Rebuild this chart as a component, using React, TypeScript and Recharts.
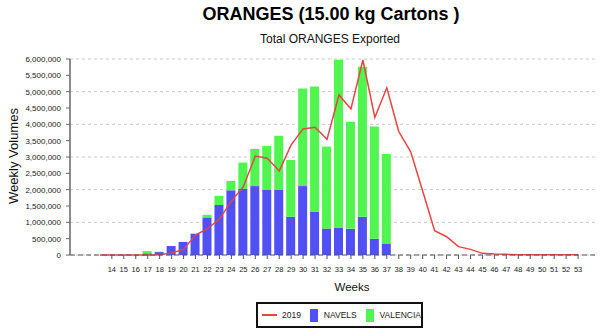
import React from 'react';
import {
  ComposedChart,
  Bar,
  Line,
  XAxis,
  YAxis,
  CartesianGrid,
  Legend,
} from 'recharts';

// weeks 11..54 (only 14..53 are labelled on the axis)
const weeks = [
  11, 12, 13, 14, 15, 16, 17, 18, 19, 20, 21, 22, 23, 24, 25, 26, 27, 28, 29, 30, 31, 32,
  33, 34, 35, 36, 37, 38, 39, 40, 41, 42, 43, 44, 45, 46, 47, 48, 49, 50, 51, 52, 53, 54,
];
const weekLabels = weeks.map((w) => (w >= 14 && w <= 53 ? String(w) : ''));

const navels = [
  null, null, null, 0, 0, 0, 50000, 90000, 275000, 400000, 650000, 1150000, 1530000, 1980000,
  2020000, 2110000, 1990000, 1990000, 1170000, 2110000, 1330000, 810000, 840000, 800000,
  1170000, 500000, 340000, 0, 0, 0, 0, 0, 0, 0, 0, 0, 0, 0, 0, 0, 0, 0, 0, null,
];

const valencia = [
  null, null, null, 0, 0, 0, 70000, 10000, 0, 0, 10000, 80000, 280000, 290000,
  810000, 1140000, 1350000, 1660000, 1740000, 2990000, 3830000, 2510000, 5140000, 3280000,
  4590000, 3430000, 2750000, 0, 0, 0, 0, 0, 0, 0, 0, 0, 0, 0, 0, 0, 0, 0, 0, null,
];

const y2019 = [
  null, null, 0, 0, 0, 0, 0, 10000, 60000, 170000, 610000, 810000, 1100000, 1650000,
  2090000, 3030000, 2960000, 2570000, 3370000, 3860000, 3910000, 3540000, 4900000, 4470000,
  5970000, 4210000, 5120000, 3780000, 3160000, 1960000, 745000, 560000, 255000, 173000,
  50000, 30000, 20000, 10000, 5000, 5000, 5000, 5000, 5000, null,
];

const yTicks = [0, 500000, 1000000, 1500000, 2000000, 2500000, 3000000, 3500000, 4000000, 4500000, 5000000, 5500000, 6000000];

const data = weeks.map((w, i) => ({
  week: weekLabels[i] || `_${w}`,
  navels: navels[i],
  valencia: valencia[i],
  y2019: y2019[i],
}));

const FONT = "Arial, 'Liberation Sans', sans-serif";
const BLUE = '#5050f5';
const GREEN = '#50f550';
const RED = '#e84444';

const WeekTick = (props: any) => {
  const { x, y, payload } = props;
  const label = String(payload.value);
  if (label.startsWith('_')) return null;
  return (
    <g>
      <line x1={x} x2={x} y1={y - 6} y2={y - 2} stroke="#555" strokeWidth={1} />
      <text x={x} y={y + 11} textAnchor="middle" fontSize={7.5} fill="#222" fontFamily={FONT}>
        {label}
      </text>
    </g>
  );
};

const LegendBox = () => (
  <div
    style={{
      boxSizing: 'border-box',
      width: 167,
      height: 26,
      border: '2px solid #111',
      display: 'flex',
      alignItems: 'center',
      fontFamily: "'Liberation Sans Narrow', 'Arial Narrow', Arial, sans-serif",
      fontSize: 8.5,
      color: '#222',
    }}
  >
    <span style={{ marginLeft: 4, width: 23, height: 2, background: RED, display: 'inline-block' }} />
    <span style={{ marginLeft: 5 }}>2019</span>
    <span style={{ marginLeft: 9, width: 12, height: 13, background: BLUE, display: 'inline-block' }} />
    <span style={{ marginLeft: 6 }}>NAVELS</span>
    <span style={{ marginLeft: 9, width: 12, height: 13, background: GREEN, display: 'inline-block' }} />
    <span style={{ marginLeft: 6 }}>VALENCIA</span>
  </div>
);

export default function App() {
  return (
    <div style={{ position: 'absolute', left: 0, top: 0, width: 600, height: 332, background: '#fff' }}>
      <ComposedChart
        width={600}
        height={332}
        data={data}
        margin={{ top: 59, right: 4, bottom: 47, left: 8 }}
        barSize={9}
      >
        <CartesianGrid vertical={false} stroke="#c8c8c8" strokeDasharray="3 3" />
        <XAxis
          dataKey="week"
          interval={0}
          height={30}
          tickLine={false}
          tickSize={4}
          tickMargin={2}
          axisLine={{ stroke: '#555', strokeDasharray: '5 3' }}
          tick={<WeekTick />}
        />
        <YAxis
          width={62}
          domain={[0, 6000000]}
          ticks={yTicks}
          tickSize={4}
          tickMargin={5}
          axisLine={{ stroke: '#666', strokeWidth: 1.5 }}
          tickLine={{ stroke: '#666' }}
          tick={{ fontSize: 8, fill: '#222', fontFamily: FONT }}
          tickFormatter={(v: number) => v.toLocaleString('en-US')}
        />
        <Legend
          layout="horizontal"
          verticalAlign="middle"
          align="center"
          content={<LegendBox />}
          wrapperStyle={{ left: 256, top: 302, width: 167, height: 26 }}
        />
        <Bar dataKey="navels" name="NAVELS" stackId="a" fill={BLUE} isAnimationActive={false} />
        <Bar dataKey="valencia" name="VALENCIA" stackId="a" fill={GREEN} isAnimationActive={false} />
        <Line
          dataKey="y2019"
          name="2019"
          type="linear"
          stroke={RED}
          strokeWidth={1.5}
          dot={false}
          isAnimationActive={false}
        />
      </ComposedChart>
      <svg
        width={600}
        height={332}
        style={{ position: 'absolute', left: 0, top: 0, pointerEvents: 'none' }}
        fontFamily={FONT}
      >
        <text x={331} y={20} textAnchor="middle" fontSize={18} fontWeight="bold" fill="#000">
          ORANGES (15.00 kg Cartons )
        </text>
        <text x={330} y={43} textAnchor="middle" fontSize={12} fill="#111">
          Total ORANGES Exported
        </text>
        <text x={352} y={291} textAnchor="middle" fontSize={11.5} fill="#111">
          Weeks
        </text>
        <text transform="translate(18,156) rotate(-90)" textAnchor="middle" fontSize={13} fill="#111">
          Weekly Volumes
        </text>
      </svg>
    </div>
  );
}
